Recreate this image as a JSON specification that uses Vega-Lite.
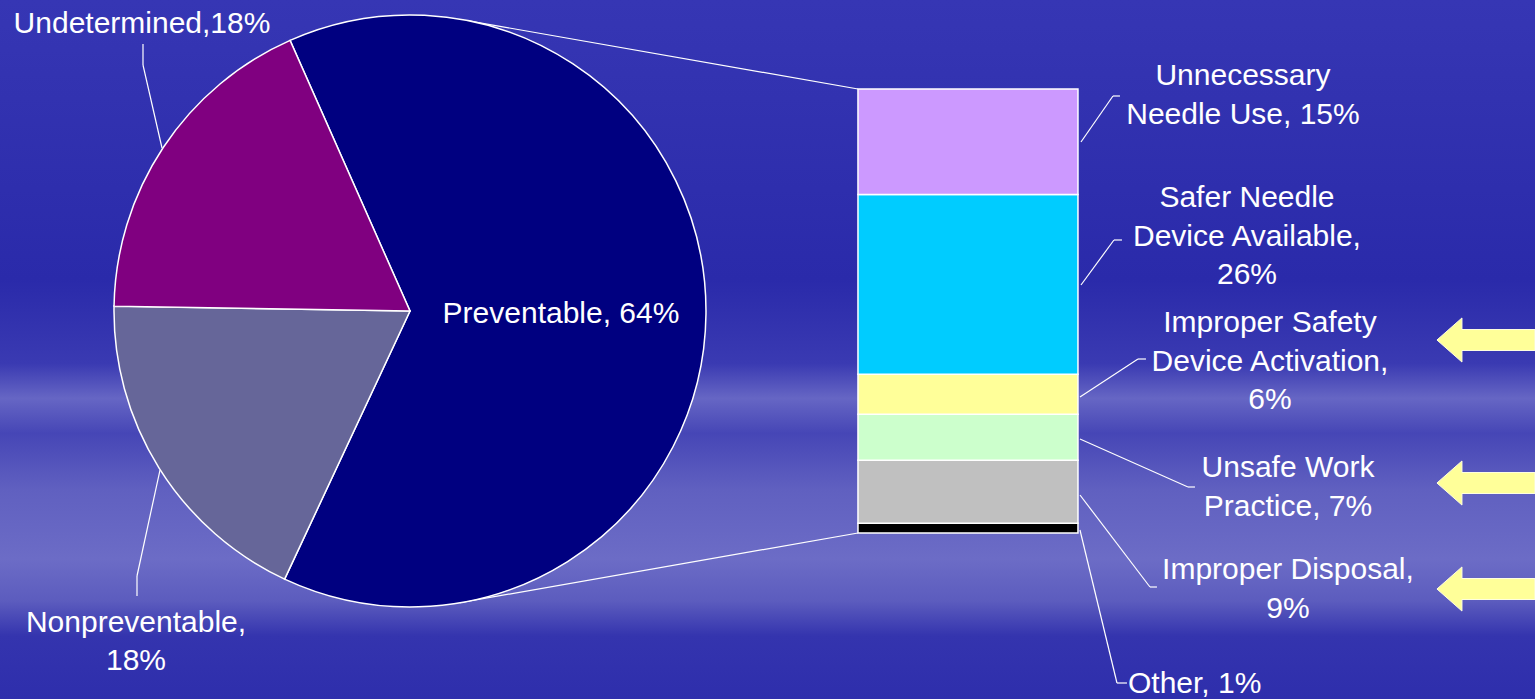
{
  "$schema": "https://vega.github.io/schema/vega-lite/v6.json",
  "width": 1535,
  "height": 699,
  "padding": 0,
  "autosize": {"type": "none"},
  "background": "#3333b0",
  "config": {
    "view": {"stroke": null},
    "axis": {"disable": true},
    "legend": {"disable": true},
    "rule": {"color": "white", "strokeWidth": 1.2},
    "text": {"font": "Liberation Sans", "fontSize": 30, "color": "white", "lineBreak": "\n", "lineHeight": 38.5, "baseline": "alphabetic", "align": "center"}
  },
  "datasets": {
    "pie": [
      {"cat": "Preventable", "share": 63.6, "seq": 1, "label": "Preventable, 64%"},
      {"cat": "Nonpreventable", "share": 18.3, "seq": 2, "label": "Nonpreventable,\n18%"},
      {"cat": "Undetermined", "share": 18.1, "seq": 3, "label": "Undetermined,18%"}
    ],
    "bar": [
      {"cat": "Other", "value": 1.4, "seq": 1, "label": "Other, 1%"},
      {"cat": "Improper Disposal", "value": 9.1, "seq": 2, "label": "Improper Disposal,\n9%"},
      {"cat": "Unsafe Work Practice", "value": 6.6, "seq": 3, "label": "Unsafe Work\nPractice, 7%"},
      {"cat": "Improper Safety Device Activation", "value": 5.8, "seq": 4, "label": "Improper Safety\nDevice Activation,\n6%"},
      {"cat": "Safer Needle Device Available", "value": 25.9, "seq": 5, "label": "Safer Needle\nDevice Available,\n26%"},
      {"cat": "Unnecessary Needle Use", "value": 15.2, "seq": 6, "label": "Unnecessary\nNeedle Use, 15%"}
    ],
    "one": [{"k": 1}]
  },
  "layer": [
    {
      "data": {"name": "one"},
      "mark": {"type": "rect", "fill": {"gradient": "linear", "x1": 0, "y1": 0, "x2": 0, "y2": 1, "stops": [
        {"offset": 0, "color": "#3636b4"},
        {"offset": 0.14, "color": "#3232b0"},
        {"offset": 0.4, "color": "#2a2aaa"},
        {"offset": 0.52, "color": "#3a3ab2"},
        {"offset": 0.57, "color": "#6666c4"},
        {"offset": 0.62, "color": "#4646b6"},
        {"offset": 0.7, "color": "#6060c0"},
        {"offset": 0.8, "color": "#6c6cc6"},
        {"offset": 0.86, "color": "#5c5cbe"},
        {"offset": 0.91, "color": "#3434ae"},
        {"offset": 1, "color": "#2e2eac"}
      ]}},
      "encoding": {
        "x": {"datum": 0, "type": "quantitative", "scale": {"domain": [0, 221.27], "nice": false, "zero": false}},
        "x2": {"datum": 221.27},
        "y": {"datum": -23.929, "type": "quantitative", "scale": {"domain": [-23.929, 76.829], "nice": false, "zero": false}},
        "y2": {"datum": 76.829}
      }
    },
    {"data": {"name": "one"}, "mark": "rule", "encoding": {"x": {"datum": 67.749, "type": "quantitative"}, "y": {"datum": 73.788, "type": "quantitative"}, "x2": {"datum": 123.677}, "y2": {"datum": 64.0}}},
    {"data": {"name": "one"}, "mark": "rule", "encoding": {"x": {"datum": 66.307, "type": "quantitative"}, "y": {"datum": -10.048, "type": "quantitative"}, "x2": {"datum": 123.677}, "y2": {"datum": 0.0}}},
    {
      "data": {"name": "pie"},
      "mark": {"type": "arc", "outerRadius": 296, "stroke": "white", "strokeWidth": 1.5},
      "encoding": {
        "theta": {"field": "share", "type": "quantitative", "stack": true, "scale": {"range": [-0.4171, 5.8661]}},
        "order": {"field": "seq", "type": "quantitative"},
        "x": {"datum": 59.10, "type": "quantitative"},
        "y": {"datum": 32.0, "type": "quantitative"},
        "color": {"field": "cat", "type": "nominal", "legend": null, "scale": {
          "domain": ["Preventable", "Nonpreventable", "Undetermined", "Unnecessary Needle Use", "Safer Needle Device Available", "Improper Safety Device Activation", "Unsafe Work Practice", "Improper Disposal", "Other"],
          "range": ["#000080", "#666699", "#800080", "#CC99FF", "#00CCFF", "#FFFF99", "#CCFFCC", "#C0C0C0", "#000000"]}}
      }
    },
    {
      "data": {"name": "bar"},
      "transform": [{"stack": "value", "groupby": [], "sort": [{"field": "seq", "order": "ascending"}], "as": ["y0", "y1"]}],
      "mark": {"type": "rect", "stroke": "white", "strokeWidth": 1.5},
      "encoding": {
        "x": {"datum": 123.677, "type": "quantitative"},
        "x2": {"datum": 155.389},
        "y": {"field": "y0", "type": "quantitative"},
        "y2": {"field": "y1"},
        "color": {"field": "cat", "type": "nominal", "legend": null, "scale": {
          "domain": ["Preventable", "Nonpreventable", "Undetermined", "Unnecessary Needle Use", "Safer Needle Device Available", "Improper Safety Device Activation", "Unsafe Work Practice", "Improper Disposal", "Other"],
          "range": ["#000080", "#666699", "#800080", "#CC99FF", "#00CCFF", "#FFFF99", "#CCFFCC", "#C0C0C0", "#000000"]}}
      }
    },
    {"data": {"name": "one"}, "mark": "rule", "encoding": {"x": {"datum": 20.613, "type": "quantitative"}, "y": {"datum": 70.487, "type": "quantitative"}, "x2": {"datum": 20.613}, "y2": {"datum": 67.459}}},
    {"data": {"name": "one"}, "mark": "rule", "encoding": {"x": {"datum": 20.613, "type": "quantitative"}, "y": {"datum": 67.459, "type": "quantitative"}, "x2": {"datum": 23.352}, "y2": {"datum": 55.495}}},
    {"data": {"name": "one"}, "mark": "rule", "encoding": {"x": {"datum": 19.748, "type": "quantitative"}, "y": {"datum": -9.082, "type": "quantitative"}, "x2": {"datum": 19.748}, "y2": {"datum": -6.199}}},
    {"data": {"name": "one"}, "mark": "rule", "encoding": {"x": {"datum": 19.748, "type": "quantitative"}, "y": {"datum": -6.199, "type": "quantitative"}, "x2": {"datum": 23.063}, "y2": {"datum": 9.080}}},
    {"data": {"name": "one"}, "mark": "rule", "encoding": {"x": {"datum": 155.822, "type": "quantitative"}, "y": {"datum": 56.360, "type": "quantitative"}, "x2": {"datum": 160.435}, "y2": {"datum": 62.991}}},
    {"data": {"name": "one"}, "mark": "rule", "encoding": {"x": {"datum": 160.435, "type": "quantitative"}, "y": {"datum": 62.991, "type": "quantitative"}, "x2": {"datum": 161.444}, "y2": {"datum": 62.991}}},
    {"data": {"name": "one"}, "mark": "rule", "encoding": {"x": {"datum": 155.822, "type": "quantitative"}, "y": {"datum": 35.747, "type": "quantitative"}, "x2": {"datum": 160.579}, "y2": {"datum": 42.234}}},
    {"data": {"name": "one"}, "mark": "rule", "encoding": {"x": {"datum": 160.579, "type": "quantitative"}, "y": {"datum": 42.234, "type": "quantitative"}, "x2": {"datum": 161.732}, "y2": {"datum": 42.234}}},
    {"data": {"name": "one"}, "mark": "rule", "encoding": {"x": {"datum": 155.678, "type": "quantitative"}, "y": {"datum": 19.603, "type": "quantitative"}, "x2": {"datum": 164.038}, "y2": {"datum": 25.080}}},
    {"data": {"name": "one"}, "mark": "rule", "encoding": {"x": {"datum": 164.038, "type": "quantitative"}, "y": {"datum": 25.080, "type": "quantitative"}, "x2": {"datum": 165.191}, "y2": {"datum": 25.080}}},
    {"data": {"name": "one"}, "mark": "rule", "encoding": {"x": {"datum": 155.678, "type": "quantitative"}, "y": {"datum": 13.549, "type": "quantitative"}, "x2": {"datum": 171.246}, "y2": {"datum": 6.630}}},
    {"data": {"name": "one"}, "mark": "rule", "encoding": {"x": {"datum": 171.246, "type": "quantitative"}, "y": {"datum": 6.630, "type": "quantitative"}, "x2": {"datum": 172.255}, "y2": {"datum": 6.630}}},
    {"data": {"name": "one"}, "mark": "rule", "encoding": {"x": {"datum": 155.678, "type": "quantitative"}, "y": {"datum": 5.477, "type": "quantitative"}, "x2": {"datum": 165.767}, "y2": {"datum": -7.785}}},
    {"data": {"name": "one"}, "mark": "rule", "encoding": {"x": {"datum": 165.767, "type": "quantitative"}, "y": {"datum": -7.785, "type": "quantitative"}, "x2": {"datum": 166.776}, "y2": {"datum": -7.785}}},
    {"data": {"name": "one"}, "mark": "rule", "encoding": {"x": {"datum": 155.678, "type": "quantitative"}, "y": {"datum": 0.432, "type": "quantitative"}, "x2": {"datum": 161.012}, "y2": {"datum": -21.623}}},
    {"data": {"name": "one"}, "mark": "rule", "encoding": {"x": {"datum": 161.012, "type": "quantitative"}, "y": {"datum": -21.623, "type": "quantitative"}, "x2": {"datum": 162.453}, "y2": {"datum": -21.623}}},
    {"data": {"name": "pie"}, "transform": [{"filter": "datum.cat === 'Undetermined'"}], "mark": "text", "encoding": {"x": {"datum": 20.469, "type": "quantitative"}, "y": {"datum": 72.072, "type": "quantitative"}, "text": {"field": "label"}}},
    {"data": {"name": "pie"}, "transform": [{"filter": "datum.cat === 'Preventable'"}], "mark": "text", "encoding": {"x": {"datum": 80.866, "type": "quantitative"}, "y": {"datum": 30.270, "type": "quantitative"}, "text": {"field": "label"}}},
    {"data": {"name": "pie"}, "transform": [{"filter": "datum.cat === 'Nonpreventable'"}], "mark": "text", "encoding": {"x": {"datum": 19.604, "type": "quantitative"}, "y": {"datum": -14.271, "type": "quantitative"}, "text": {"field": "label"}}},
    {"data": {"name": "bar"}, "transform": [{"filter": "datum.cat === 'Unnecessary Needle Use'"}], "mark": "text", "encoding": {"x": {"datum": 179.174, "type": "quantitative"}, "y": {"datum": 64.576, "type": "quantitative"}, "text": {"field": "label"}}},
    {"data": {"name": "bar"}, "transform": [{"filter": "datum.cat === 'Safer Needle Device Available'"}], "mark": "text", "encoding": {"x": {"datum": 179.751, "type": "quantitative"}, "y": {"datum": 46.990, "type": "quantitative"}, "text": {"field": "label"}}},
    {"data": {"name": "bar"}, "transform": [{"filter": "datum.cat === 'Improper Safety Device Activation'"}], "mark": "text", "encoding": {"x": {"datum": 183.066, "type": "quantitative"}, "y": {"datum": 28.972, "type": "quantitative"}, "text": {"field": "label"}}},
    {"data": {"name": "bar"}, "transform": [{"filter": "datum.cat === 'Unsafe Work Practice'"}], "mark": "text", "encoding": {"x": {"datum": 185.660, "type": "quantitative"}, "y": {"datum": 8.071, "type": "quantitative"}, "text": {"field": "label"}}},
    {"data": {"name": "bar"}, "transform": [{"filter": "datum.cat === 'Improper Disposal'"}], "mark": "text", "encoding": {"x": {"datum": 185.660, "type": "quantitative"}, "y": {"datum": -6.632, "type": "quantitative"}, "text": {"field": "label"}}},
    {"data": {"name": "bar"}, "transform": [{"filter": "datum.cat === 'Other'"}], "mark": {"type": "text", "align": "left"}, "encoding": {"x": {"datum": 162.597, "type": "quantitative"}, "y": {"datum": -23.064, "type": "quantitative"}, "text": {"field": "label"}}},
    {"data": {"name": "one"}, "mark": {"type": "point", "shape": "M-1,0L-0.49,-0.45L-0.49,-0.214L1,-0.214L1,0.214L-0.49,0.214L-0.49,0.45Z", "size": 9604, "filled": true, "fill": "#FFFF99", "stroke": "#FFFFE0", "strokeWidth": 1, "opacity": 1}, "encoding": {"x": {"datum": 214.202, "type": "quantitative"}, "y": {"datum": 27.819, "type": "quantitative"}}},
    {"data": {"name": "one"}, "mark": {"type": "point", "shape": "M-1,0L-0.49,-0.45L-0.49,-0.214L1,-0.214L1,0.214L-0.49,0.214L-0.49,0.45Z", "size": 9604, "filled": true, "fill": "#FFFF99", "stroke": "#FFFFE0", "strokeWidth": 1, "opacity": 1}, "encoding": {"x": {"datum": 214.202, "type": "quantitative"}, "y": {"datum": 7.206, "type": "quantitative"}}},
    {"data": {"name": "one"}, "mark": {"type": "point", "shape": "M-1,0L-0.49,-0.45L-0.49,-0.214L1,-0.214L1,0.214L-0.49,0.214L-0.49,0.45Z", "size": 9604, "filled": true, "fill": "#FFFF99", "stroke": "#FFFFE0", "strokeWidth": 1, "opacity": 1}, "encoding": {"x": {"datum": 214.202, "type": "quantitative"}, "y": {"datum": -8.073, "type": "quantitative"}}}
  ]
}
